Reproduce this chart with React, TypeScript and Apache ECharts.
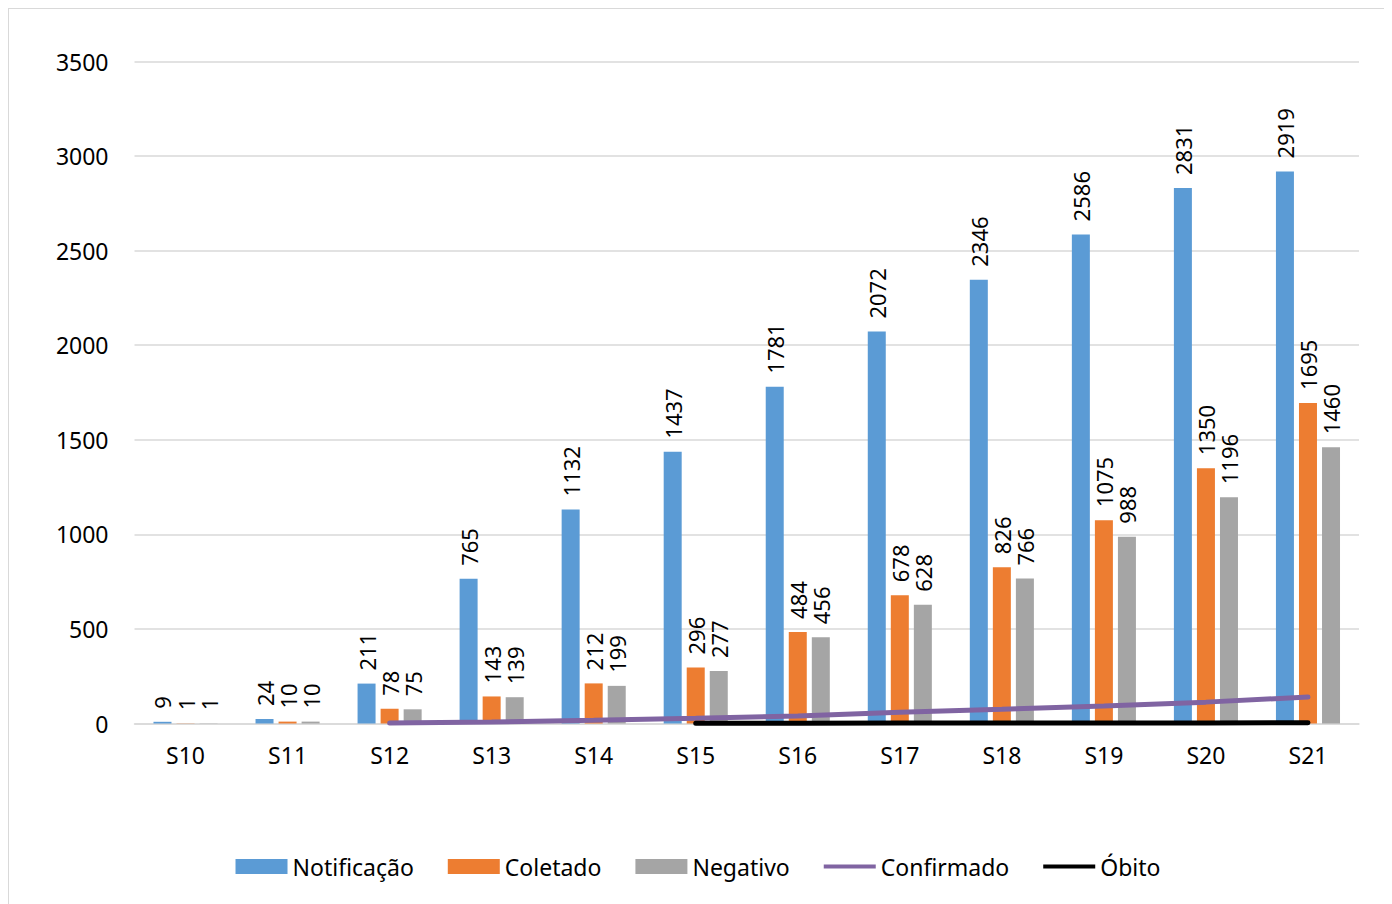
import React, { useEffect, useRef } from "react";
import * as echarts from "echarts";

const categories = ["S10", "S11", "S12", "S13", "S14", "S15", "S16", "S17", "S18", "S19", "S20", "S21"];
const notificacao = [9, 24, 211, 765, 1132, 1437, 1781, 2072, 2346, 2586, 2831, 2919];
const coletado = [1, 10, 78, 143, 212, 296, 484, 678, 826, 1075, 1350, 1695];
const negativo = [1, 10, 75, 139, 199, 277, 456, 628, 766, 988, 1196, 1460];
const confirmado = [null, null, 2, 8, 17, 28, 40, 60, 75, 93, 113, 140];
const obito = [null, null, null, null, null, 1, 1, 2, 2, 3, 3, 4];

const FONT = "'Noto Sans', sans-serif";
const LINE_ICON = "path://M0,0 L120,0 L120,9 L0,9 Z";

export default function App() {
  const ref = useRef<HTMLDivElement>(null);
  useEffect(() => {
    if (!ref.current) return;
    const chart = echarts.init(ref.current, null, { renderer: "svg" });
    const barLabel = {
      show: true,
      position: "top" as const,
      rotate: 90,
      align: "left" as const,
      verticalAlign: "middle" as const,
      distance: 13,
      color: "#000",
      fontSize: 22,
      fontFamily: FONT,
    };
    chart.setOption({
      animation: false,
      textStyle: { fontFamily: FONT },
      grid: { left: 125.5, right: 28, top: 52.5, bottom: 183.5, containLabel: false },
      legend: {
        bottom: 24,
        left: "center",
        itemWidth: 52,
        itemHeight: 15,
        itemGap: 34,
        symbolKeepAspect: true,
        textStyle: { fontSize: 23, color: "#000", fontFamily: FONT },
        data: [
          { name: "Notificação", icon: "rect" },
          { name: "Coletado", icon: "rect" },
          { name: "Negativo", icon: "rect" },
          { name: "Confirmado", icon: LINE_ICON, itemStyle: { color: "#8064A2" } },
          { name: "Óbito", icon: LINE_ICON, itemStyle: { color: "#000" } },
        ],
      },
      xAxis: {
        type: "category",
        data: categories,
        axisLine: { lineStyle: { color: "#d9d9d9", width: 1.5 } },
        axisTick: { show: false },
        axisLabel: { color: "#000", fontSize: 23, margin: 20, fontFamily: FONT },
      },
      yAxis: {
        type: "value",
        min: 0,
        max: 3500,
        interval: 500,
        axisLine: { show: false },
        axisTick: { show: false },
        axisLabel: {
          color: "#000",
          fontSize: 23,
          margin: 26,
          fontFamily: FONT,
          formatter: (v: number) => String(v),
        },
        splitLine: { lineStyle: { color: "#d9d9d9", width: 1.5 } },
      },
      series: [
        {
          name: "Notificação",
          type: "bar",
          data: notificacao,
          barWidth: 18,
          barGap: "28%",
          itemStyle: { color: "#5B9BD5" },
          label: barLabel,
        },
        {
          name: "Coletado",
          type: "bar",
          data: coletado,
          barWidth: 18,
          barGap: "28%",
          itemStyle: { color: "#ED7D31" },
          label: barLabel,
        },
        {
          name: "Negativo",
          type: "bar",
          data: negativo,
          barWidth: 18,
          barGap: "28%",
          itemStyle: { color: "#A5A5A5" },
          label: barLabel,
        },
        {
          name: "Confirmado",
          type: "line",
          data: confirmado,
          symbol: "none",
          itemStyle: { color: "#8064A2" },
          lineStyle: { color: "#8064A2", width: 5, cap: "round" },
          z: 5,
        },
        {
          name: "Óbito",
          type: "line",
          data: obito,
          symbol: "none",
          itemStyle: { color: "#000" },
          lineStyle: { color: "#000", width: 5, cap: "round" },
          z: 6,
        },
      ],
    });
    return () => chart.dispose();
  }, []);
  return (
    <div
      style={{
        width: 1380,
        height: 900,
        border: "1.5px solid #d9d9d9",
        boxSizing: "border-box",
        background: "#fff",
      }}
    >
      <div ref={ref} style={{ width: "100%", height: "100%" }} />
    </div>
  );
}
